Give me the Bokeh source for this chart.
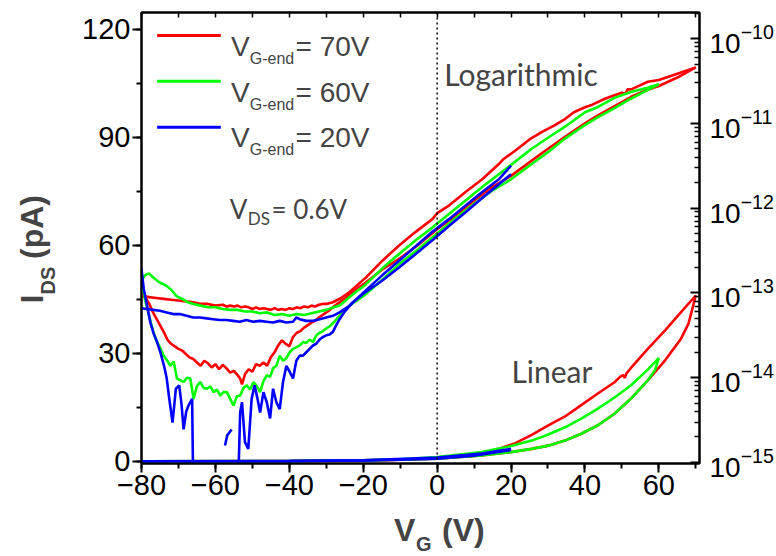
import numpy as np
from bokeh.plotting import figure
from bokeh.models import (Range1d, LinearAxis, LogAxis, LogScale, Span, Label,
                          SingleIntervalTicker, FixedTicker, LogTickFormatter,
                          CustomJSTickFormatter)
from bokeh.embed import file_html
from bokeh.resources import INLINE

# ---------------- data ----------------
# Logarithmic curves: V_G (V) and log10 of I_DS (A) on the right axis
red_log_fwd_v = [-80.0, -79.0, -78.0, -77.0, -76.0, -75.0, -74.0, -73.0, -72.0, -71.0, -70.0, -69.0, -68.0, -67.0,
                 -66.0, -65.0, -64.0, -63.0, -62.0, -61.0, -60.0, -59.0, -58.0, -57.0, -56.0, -55.0, -54.0, -53.3,
                 -52.8, -52.0, -51.0, -50.0, -49.0, -48.0, -47.0, -46.0, -45.0, -44.0, -43.0, -42.0, -41.0, -40.0,
                 -39.0, -38.0, -37.0, -36.0, -35.0, -34.0, -33.0, -32.0, -31.0, -30.0, -29.0, -28.0, -27.0, -26.0,
                 -24.0, -22.0, -20.0, -15.0, -10.0, -5.0, 0.0, 5.0, 10.0, 15.0, 20.0, 25.6, 30.0, 34.6, 40.0, 43.4,
                 47.9, 52.4, 56.0, 60.0, 65.0, 70.0]
red_log_fwd_e = [-13.03, -13.05, -13.12, -13.22, -13.30, -13.38, -13.46, -13.55, -13.60, -13.63, -13.66, -13.68, -13.72, -13.76,
                 -13.78, -13.82, -13.86, -13.80, -13.83, -13.88, -13.84, -13.90, -13.85, -13.89, -13.94, -13.92, -13.97, -14.01,
                 -14.08, -13.96, -13.90, -13.93, -13.84, -13.86, -13.82, -13.86, -13.76, -13.70, -13.62, -13.56, -13.60, -13.63,
                 -13.52, -13.47, -13.45, -13.41, -13.38, -13.35, -13.33, -13.29, -13.26, -13.23, -13.20, -13.16, -13.13, -13.10,
                 -13.03, -12.96, -12.90, -12.73, -12.59, -12.43, -12.25, -12.09, -11.91, -11.75, -11.62, -11.44, -11.30, -11.16, -11.00, -10.91,
                 -10.80, -10.69, -10.62, -10.56, -10.46, -10.34]
red_log_rev_v = [70.0, 66.0, 63.4, 60.0, 57.0, 54.0, 52.5, 51.5, 51.0, 50.0, 48.0, 45.4, 42.0, 40.0, 37.0, 34.6, 31.5,
                 28.4, 25.0, 21.2, 18.0, 16.7, 12.2, 7.7, 3.2, 0.0, -1.3, -5.8, -10.3, -14.8, -19.3, -23.7, -26.0, -28.2,
                 -30.0, -31.0, -32.0, -33.0, -34.0, -35.0, -36.0, -37.0, -38.0, -39.0, -40.0, -41.0, -42.0, -43.0, -44.0,
                 -45.0, -46.0, -47.0, -48.0, -49.0, -50.0, -51.0, -52.0, -53.0, -54.0, -55.0, -56.0, -57.0, -58.0, -60.0,
                 -62.0, -64.0, -66.0, -68.0, -70.0, -72.0, -74.0, -76.0, -78.0, -80.0]
red_log_rev_e = [-10.34, -10.40, -10.44, -10.49, -10.51, -10.57, -10.60, -10.60, -10.65, -10.64, -10.67, -10.71, -10.78, -10.81, -10.87, -10.95, -11.03,
                 -11.10, -11.19, -11.32, -11.42, -11.48, -11.66, -11.81, -11.97, -12.06, -12.13, -12.28, -12.44, -12.62, -12.82, -12.99, -13.06, -13.11,
                 -13.13, -13.13, -13.14, -13.16, -13.15, -13.17, -13.16, -13.18, -13.17, -13.19, -13.18, -13.20, -13.19, -13.20, -13.18,
                 -13.20, -13.19, -13.18, -13.19, -13.17, -13.19, -13.17, -13.16, -13.17, -13.15, -13.16, -13.15, -13.16, -13.14, -13.15,
                 -13.13, -13.13, -13.11, -13.10, -13.09, -13.08, -13.07, -13.06, -13.05, -13.03]

green_log_fwd_v = [-80.0, -79.5, -79.0, -78.0, -77.0, -76.0, -75.0, -74.0, -73.0, -72.2, -71.3, -70.4, -69.5, -68.6, -67.7,
                   -66.8, -65.9, -65.0, -64.1, -63.2, -62.3, -61.4, -60.5, -59.6, -58.7, -57.8, -56.9, -56.0, -55.1, -54.2,
                   -53.3, -52.4, -51.5, -50.6, -49.7, -48.8, -47.9, -47.0, -46.1, -45.2, -44.4, -43.5, -42.6, -41.7, -40.8,
                   -39.9, -39.0, -38.0, -37.2, -36.3, -35.4, -34.5, -33.6, -32.7, -31.8, -30.9, -30.0, -29.0, -28.0, -27.0,
                   -26.4, -25.0, -20.0, -15.0, -10.0, -5.0, 0.0, 5.0, 10.0, 15.0, 20.0, 25.6, 30.0, 34.6, 40.0, 43.4, 48.0,
                   52.4, 56.0, 60.0]
green_log_fwd_e = [-12.85, -12.97, -13.09, -13.26, -13.43, -13.56, -13.64, -13.74, -13.80, -13.86, -13.81, -14.01, -14.03, -14.05, -14.00,
                   -14.01, -14.25, -14.10, -14.05, -14.12, -14.13, -14.10, -14.17, -14.14, -14.21, -14.17, -14.17, -14.25, -14.33, -14.22,
                   -14.21, -14.12, -14.09, -14.14, -14.05, -14.10, -14.17, -14.04, -13.97, -13.99, -13.89, -13.86, -13.74, -13.80, -13.77,
                   -13.70, -13.66, -13.64, -13.62, -13.58, -13.59, -13.55, -13.58, -13.50, -13.47, -13.45, -13.42, -13.39, -13.35, -13.30,
                   -13.27, -13.19, -13.04, -12.85, -12.65, -12.48, -12.30, -12.12, -11.95, -11.79, -11.66, -11.48, -11.34, -11.18, -11.02, -10.93, -10.82,
                   -10.71, -10.63, -10.54]
green_log_rev_v = [60.0, 57.0, 52.4, 48.0, 43.4, 40.0, 34.6, 30.0, 25.6, 20.0, 16.7, 12.2, 7.7, 3.2, -1.3, -5.8, -10.3,
                   -14.8, -19.3, -22.0, -24.0, -26.4, -28.0, -30.0, -32.0, -34.0, -36.0, -38.0, -40.0, -42.0, -44.0, -46.0,
                   -48.0, -50.0, -52.0, -54.0, -56.0, -58.0, -60.0, -62.0, -64.0, -66.0, -67.5, -69.0, -70.5, -72.0, -73.5,
                   -75.0, -76.5, -78.0, -79.0, -80.0]
green_log_rev_e = [-10.54, -10.58, -10.63, -10.70, -10.81, -10.87, -11.04, -11.17, -11.30, -11.49, -11.60, -11.75, -11.91, -12.07, -12.23, -12.38, -12.54,
                   -12.71, -12.90, -12.99, -13.06, -13.15, -13.17, -13.20, -13.22, -13.24, -13.26, -13.25, -13.27, -13.25, -13.26, -13.23,
                   -13.24, -13.22, -13.22, -13.20, -13.20, -13.19, -13.17, -13.17, -13.15, -13.13, -13.11, -13.07, -13.04, -12.96, -12.91,
                   -12.88, -12.83, -12.77, -12.79, -12.85]

# NaN marks the points where the blue log curve is not shown (zero / negative current)
blue_log_fwd_v = [-80.0, -79.4, -78.5, -77.6, -76.7, -75.8, -74.9, -73.9, -73.2, -72.6, -71.6, -70.7, -69.8, -69.2, -68.6,
                  -67.9, -67.3, -66.3, -65.8, -60.0, -57.4, -56.8, -55.6, -55.0, -54.3, -53.3, -52.8, -52.0, -51.1, -50.2,
                  -49.4, -48.6, -47.9, -47.0, -46.1, -45.2, -44.4, -43.5, -42.6, -41.7, -40.8, -39.9, -39.0, -38.1, -37.2,
                  -36.3, -35.4, -34.5, -33.6, -32.7, -31.8, -30.9, -30.0, -29.1, -28.2, -27.3, -26.4, -25.0, -23.0, -20.0,
                  -15.0, -10.3, -5.8, -1.3, 3.2, 7.7, 12.2, 16.7, 20.0]
blue_log_fwd_e = [-12.72, -12.95, -13.15, -13.35, -13.48, -13.58, -13.70, -13.86, -14.00, -14.21, -14.53, -14.13, -14.09, -14.30, -14.61,
                  -14.40, -14.33, -14.25, -16.00, np.nan, -14.80, -14.68, -14.61, np.nan, -16.00, -14.41, -14.29, -14.76, -14.84, -14.25,
                  -14.09, -14.25, -14.41, -14.17, -14.29, -14.48, -14.13, -14.29, -14.37, -14.05, -13.86, -13.93, -14.01, -13.80, -13.74,
                  -13.74, -13.70, -13.66, -13.62, -13.60, -13.55, -13.52, -13.50, -13.49, -13.46, -13.38, -13.31, -13.22, -13.12, -13.01,
                  -12.86, -12.70, -12.54, -12.38, -12.21, -12.05, -11.88, -11.72, -11.60]
blue_log_rev_v = [20.0, 16.7, 12.2, 7.7, 3.2, -1.3, -5.8, -10.3, -14.8, -19.3, -22.0, -24.0, -26.4, -28.2, -30.0, -31.8,
                  -33.6, -35.4, -37.2, -38.1, -39.0, -40.8, -42.6, -44.4, -46.2, -48.0, -49.8, -51.6, -53.4, -55.2, -57.0,
                  -58.8, -60.6, -62.4, -64.2, -66.0, -67.8, -69.6, -71.4, -73.2, -75.0, -76.8, -78.6, -80.0]
blue_log_rev_e = [-11.50, -11.66, -11.81, -11.97, -12.13, -12.28, -12.45, -12.62, -12.79, -12.97, -13.08, -13.16, -13.23, -13.27, -13.29, -13.31,
                  -13.33, -13.33, -13.31, -13.29, -13.34, -13.35, -13.33, -13.35, -13.34, -13.33, -13.34, -13.32, -13.34, -13.33, -13.32,
                  -13.32, -13.31, -13.30, -13.29, -13.29, -13.27, -13.25, -13.25, -13.23, -13.21, -13.20, -13.19, -13.18]

# Linear curves: V_G (V) and I_DS (pA) on the left axis
red_lin_fwd_v = [-80.0, -60.0, -40.0, -20.0, -10.0, 0.0, 12.0, 20.0, 25.6, 30.1, 34.6, 39.0, 43.4, 47.9, 52.4, 57.0, 61.7, 66.0, 68.0, 70.0]
red_lin_fwd_i = [0.05, 0.05, 0.1, 0.3, 0.5, 0.8, 1.7, 2.6, 3.5, 4.4, 5.8, 7.7, 10.0, 13.2, 17.4, 22.5, 28.1, 34.1, 38.2, 46.1]
red_lin_rev_v = [70.0, 66.0, 61.7, 57.0, 52.4, 51.2, 50.8, 50.3, 49.5, 48.0, 43.4, 38.9, 34.6, 30.1, 25.6, 21.2, 16.6, 12.1, 7.6, 0.0, -10.0, -20.0, -40.0, -80.0]
red_lin_rev_i = [46.1, 41.5, 36.4, 31.3, 25.9, 24.4, 23.2, 24.0, 23.5, 22.0, 18.8, 15.6, 12.5, 10.0, 7.4, 5.1, 3.5, 2.3, 1.5, 1.0, 0.5, 0.3, 0.1, 0.05]

green_lin_fwd_v = [-80.0, -60.0, -40.0, -20.0, -10.0, 0.0, 12.0, 20.0, 25.6, 30.1, 34.6, 39.0, 43.4, 47.9, 52.4, 57.0, 59.0, 60.0]
green_lin_fwd_i = [0.05, 0.05, 0.1, 0.3, 0.5, 0.8, 1.7, 2.6, 3.5, 4.4, 5.8, 7.7, 10.0, 13.2, 17.4, 22.5, 25.5, 28.8]
green_lin_rev_v = [60.0, 57.0, 52.4, 47.9, 43.4, 39.0, 34.6, 30.1, 25.6, 20.0, 12.1, 0.0, -10.0, -20.0, -40.0, -80.0]
green_lin_rev_i = [28.8, 25.5, 21.1, 17.7, 14.6, 11.9, 9.5, 7.5, 5.8, 4.3, 2.6, 1.2, 0.6, 0.3, 0.1, 0.05]

blue_lin_fwd_v = [-80.0, -60.0, -40.0, -20.0, -10.0, 0.0, 10.0, 20.0]
blue_lin_fwd_i = [0.05, 0.05, 0.1, 0.3, 0.5, 0.8, 1.6, 3.2]
blue_lin_rev_v = [20.0, 12.0, 0.0, -20.0, -40.0, -80.0]
blue_lin_rev_i = [3.5, 2.2, 1.1, 0.3, 0.1, 0.05]

series_names = ["70V", "60V", "20V"]
series_colors = ["#ff0000", "#00ff00", "#0000ff"]

x_ticks_major = 20
y_ticks_major = 30
log_decades = [-15, -14, -13, -12, -11, -10]

# ---------------- figure ----------------
FONT = "Liberation Sans"
NB = "\u00a0"
p = figure(width=776, height=556, output_backend="svg", toolbar_location=None,
           x_range=Range1d(-80, 71), y_range=Range1d(-0.56, 124.7),
           min_border_left=141, min_border_right=74, min_border_top=12, min_border_bottom=93,
           background_fill_color="white", border_fill_color="white")
p.extra_y_ranges = {"log": Range1d(10 ** -15.012, 10 ** -9.693)}
p.extra_y_scales = {"log": LogScale()}
p.grid.visible = False
p.outline_line_color = "black"
p.outline_line_width = 2

# left axis
ya = p.yaxis[0]
ya.ticker = SingleIntervalTicker(interval=y_ticks_major, num_minor_ticks=2)
# bottom axis
xa = p.xaxis[0]
xa.ticker = SingleIntervalTicker(interval=x_ticks_major, num_minor_ticks=2)
for ax in (xa, ya):
    ax.axis_line_width = 2
    ax.major_tick_line_width = 2
    ax.minor_tick_line_width = 2
    ax.major_tick_in = 0
    ax.major_tick_out = 9
    ax.minor_tick_in = 0
    ax.minor_tick_out = 5
    ax.major_label_text_font = FONT
    ax.major_label_text_font_size = "29px"
    ax.major_label_text_color = "black"
    ax.major_label_standoff = 2

# top axis (inner ticks only)
ta = LinearAxis(ticker=SingleIntervalTicker(interval=10, num_minor_ticks=0),
                formatter=CustomJSTickFormatter(code="return ''"),
                major_tick_in=5, major_tick_out=0, major_label_standoff=0,
                axis_line_width=2, major_tick_line_width=1.5)
p.add_layout(ta, "above")

# right log axis
minor = [k * 10.0 ** d for d in log_decades[:-1] for k in range(2, 10)] + [k * 1e-10 for k in range(2, 5)]
ra = LogAxis(y_range_name="log",
             ticker=FixedTicker(ticks=[10.0 ** d for d in log_decades], minor_ticks=minor),
             formatter=LogTickFormatter(),
             major_tick_in=9, major_tick_out=0, minor_tick_in=5, minor_tick_out=0,
             axis_line_width=2, major_tick_line_width=2, minor_tick_line_width=1.5,
             major_label_text_font=FONT, major_label_text_font_size="28px",
             major_label_text_color="black", major_label_standoff=10)
p.add_layout(ra, "right")

# dotted line at V_G = 0
p.add_layout(Span(location=0, dimension="height", line_color="black", line_dash="2 3", line_width=1.5))

LW = 2.6
log_sets = [(red_log_fwd_v, red_log_fwd_e, red_log_rev_v, red_log_rev_e),
            (green_log_fwd_v, green_log_fwd_e, green_log_rev_v, green_log_rev_e),
            (blue_log_fwd_v, blue_log_fwd_e, blue_log_rev_v, blue_log_rev_e)]
lin_sets = [(red_lin_fwd_v, red_lin_fwd_i, red_lin_rev_v, red_lin_rev_i),
            (green_lin_fwd_v, green_lin_fwd_i, green_lin_rev_v, green_lin_rev_i),
            (blue_lin_fwd_v, blue_lin_fwd_i, blue_lin_rev_v, blue_lin_rev_i)]
for color, (fv, fe, rv, re_), (lfv, lfi, lrv, lri) in zip(series_colors, log_sets, lin_sets):
    p.line(fv, 10.0 ** np.array(fe), y_range_name="log", line_color=color, line_width=LW)
    p.line(rv, 10.0 ** np.array(re_), y_range_name="log", line_color=color, line_width=LW)
    p.line(lfv, lfi, line_color=color, line_width=LW)
    p.line(lrv, lri, line_color=color, line_width=LW)

# ---------------- legend (hand-built to allow subscripts) ----------------
leg_line_x = [-75.77, -58.53]
leg_line_y = [118.3, 105.6, 92.8]
leg_text_y = [115.3, 102.6, 90.0]
for color, name, ly, ty in zip(series_colors, series_names, leg_line_y, leg_text_y):
    p.line(leg_line_x, [ly, ly], line_color=color, line_width=3)
    p.add_layout(Label(x=-55.8, y=ty, text="V", text_font=FONT, text_font_size="28px",
                       text_baseline="alphabetic"))
    p.add_layout(Label(x=-50.7, y=ty - 3.4, text="G-end", text_font=FONT, text_font_size="16px",
                       text_baseline="alphabetic"))
    p.add_layout(Label(x=-38.3, y=ty, text="= " + name, text_font=FONT, text_font_size="28px",
                       text_baseline="alphabetic"))

# V_DS annotation
p.add_layout(Label(x=-56.1, y=70.0, text="V", text_font="Lato", text_font_size="26px",
                   text_baseline="alphabetic"))
p.add_layout(Label(x=-51.26, y=67.4, text="DS", text_font="Lato", text_font_size="17px",
                   text_baseline="alphabetic"))
p.add_layout(Label(x=-44.8, y=70.0, text="= 0.6V", text_font="Lato", text_font_size="26px",
                   text_baseline="alphabetic"))
p.add_layout(Label(x=1.9, y=107.5, text="Logarithmic", text_font="Lato", text_font_size="30px",
                   text_baseline="alphabetic"))
p.add_layout(Label(x=20.1, y=25.1, text="Linear", text_font="Lato", text_font_size="30px",
                   text_baseline="alphabetic"))

# axis titles with subscripts (placed in side panels so they are not clipped to the frame;
# anchors are at the bottom edge of each text line)
p.add_layout(Label(x=-104.87, y=43.9, text="I" + NB * 4 + "(pA)", angle=np.pi / 2, text_font=FONT,
                   text_font_size="32px", text_font_style="bold"), "left")
p.add_layout(Label(x=-102.44, y=46.4, text="DS", angle=np.pi / 2, text_font=FONT,
                   text_font_size="20px", text_font_style="bold"), "left")
p.add_layout(Label(x=-5.73, y=-25.9, text="G", text_font=FONT,
                   text_font_size="20px", text_font_style="bold"), "left")
p.add_layout(Label(x=-11.65, y=-23.9, text="V" + NB * 2 + NB + "(V)", text_font=FONT,
                   text_font_size="32px", text_font_style="bold"), "below")

open("out.html", "w").write(file_html(p, INLINE))
